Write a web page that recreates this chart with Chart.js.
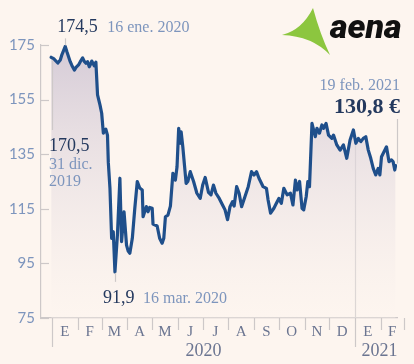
<!DOCTYPE html>
<html><head><meta charset="utf-8">
<script src="https://cdn.jsdelivr.net/npm/chart.js@4"></script>
<style>html,body{margin:0;padding:0;background:#fdf5ef}#wrap{position:relative;width:414px;height:364px}</style>
</head><body><div id="wrap"><canvas id="c" width="414" height="364"></canvas></div>
<script>
// days since 1 Jan 2020 (day 0), closing price in euros
const days = [-1,2,7,10,12,16,18,22,24,27,29,32,34,37,39,41,43,45,47,48,51,53,55,58,60,62,65,67,68,70,72,74,76,79,82,84,87,90,92,94,97,100,103,106,109,110,114,116,118,121,122,127,130,133,135,137,140,143,146,149,151,153,155,156,158,160,162,164,167,171,175,179,182,185,189,192,195,198,202,206,209,212,215,218,220,223,226,229,233,237,241,244,247,250,255,259,261,264,268,271,274,277,280,284,288,291,294,296,299,302,304,307,309,311,314,318,320,323,326,328,331,334,338,340,344,348,352,356,360,364,367,370,373,376,379,382,385,388,391,394,396,398,401,404,407,410,412,414,415];
const prices = [170.5,170.0,168.4,169.5,171.5,174.5,172.5,168.9,167.5,165.8,166.8,167.7,168.8,170.3,169.0,168.3,168.9,167.0,168.2,169.1,167.4,168.7,156.7,153.0,150.0,142.7,144.2,142.0,132.0,122.5,104.2,106.6,91.9,105.4,126.2,103.0,113.9,101.7,99.5,98.7,104.2,115.2,125.0,122.6,121.9,112.1,115.8,113.9,115.5,115.2,109.4,108.7,104.2,102.4,104.2,112.1,112.7,116.0,128.0,125.5,130.4,144.5,139.0,143.2,137.7,131.0,124.3,125.0,128.6,125.0,120.7,118.8,123.7,126.5,121.0,120.1,123.7,120.7,118.8,116.4,114.6,111.0,115.8,117.6,116.0,123.1,120.7,115.8,119.4,123.1,128.6,127.4,128.6,126.2,123.1,122.5,118.2,113.4,115.2,117.0,118.8,117.0,122.5,120.1,120.7,116.4,125.5,121.9,125.0,115.2,114.6,119.4,125.0,123.1,146.3,141.4,144.5,142.7,145.7,144.5,146.3,142.0,140.8,142.0,138.4,136.5,138.4,133.5,140.2,143.9,139.0,140.8,139.6,140.8,141.4,136.5,133.5,129.8,127.4,129.8,127.4,134.1,135.9,137.7,132.3,132.9,132.3,129.2,130.8];
// month boundaries (days since 1 Jan 2020) and labels
const monthStarts = [0,31,60,91,121,152,182,213,244,274,305,335,366,397,425];
const monthLabels = ['E','F','M','A','M','J','J','A','S','O','N','D','E','F'];
const yearLabels = [{label:'2020', from:0, to:366},{label:'2021', from:366, to:425}];
const yTicks = [75,95,115,135,155,175];
const notes = {
  max:{day:16, value:174.5, text:'174,5', date:'16 ene. 2020'},
  min:{day:76, value:91.9, text:'91,9', date:'16 mar. 2020'},
  first:{day:-1, value:170.5, text:'170,5', date:['31 dic.','2019']},
  last:{day:415, value:130.8, text:'130,8 €', date:'19 feb. 2021'}
};

const SERIF = '"Liberation Serif", serif';
const GRAY = '#cdc8c8';
const NAVY = '#24395e';
const LBLUE = '#7d95bd';

function priceAt(d){
  for(let i=1;i<days.length;i++){
    if(days[i]>=d){const t=(d-days[i-1])/(days[i]-days[i-1]);return prices[i-1]+t*(prices[i]-prices[i-1]);}
  }
  return prices[prices.length-1];
}

const deco = {
  id:'deco',
  beforeDraw(chart){
    const {ctx} = chart; ctx.save(); ctx.fillStyle='#fdf5ef'; ctx.fillRect(0,0,chart.width,chart.height); ctx.restore();
  },
  beforeDatasetsDraw(chart){
    const {ctx, scales:{x,y}} = chart;
    ctx.save();
    ctx.strokeStyle = GRAY; ctx.lineWidth = 1.2;
    const xj = Math.round(x.getPixelForValue(366))+0.5;
    ctx.beginPath(); ctx.moveTo(xj, y.getPixelForValue(priceAt(366))); ctx.lineTo(xj, 347); ctx.stroke();
    ctx.restore();
  },
  afterDatasetsDraw(chart){
    const {ctx, scales:{x,y}, chartArea:ca} = chart;
    ctx.save();
    ctx.strokeStyle = GRAY; ctx.lineWidth = 1.2;
    // y tick marks
    yTicks.forEach(v=>{const py=Math.round(y.getPixelForValue(v))+0.5; ctx.beginPath(); ctx.moveTo(ca.left-1,py); ctx.lineTo(ca.left+8,py); ctx.stroke();});
    // month separators
    monthStarts.forEach((d)=>{
      if(d===366) return;
      const px=Math.round(x.getPixelForValue(d))+0.5;
      const long = (d===0);
      ctx.beginPath(); ctx.moveTo(px, ca.bottom); ctx.lineTo(px, long?347:330); ctx.stroke();
    });
    // year labels
    ctx.fillStyle = '#6b7591'; ctx.font = '18px '+SERIF; ctx.textAlign='center'; ctx.textBaseline='alphabetic';
    yearLabels.forEach(yl=>{
      const cx = (x.getPixelForValue(yl.from)+x.getPixelForValue(yl.to))/2;
      ctx.fillText(yl.label, cx, 356);
    });
    // max annotation
    let m = notes.max, px = x.getPixelForValue(m.day), py = y.getPixelForValue(m.value);
    ctx.beginPath(); ctx.moveTo(Math.round(px)+0.5, py-1); ctx.lineTo(Math.round(px)+0.5, py-8); ctx.stroke();
    ctx.textAlign='left';
    ctx.fillStyle = NAVY; ctx.font = '18px '+SERIF; ctx.fillText(m.text, px-8, 32);
    ctx.fillStyle = LBLUE; ctx.font = '16px '+SERIF; ctx.fillText(m.date, px+42, 32);
    // first annotation
    m = notes.first; px = x.getPixelForValue(0); py = y.getPixelForValue(m.value);
    ctx.beginPath(); ctx.moveTo(Math.round(px)+0.5, py+3); ctx.lineTo(Math.round(px)+0.5, 130); ctx.stroke();
    ctx.fillStyle = NAVY; ctx.font = '18px '+SERIF; ctx.fillText(m.text, 49, 151);
    ctx.fillStyle = LBLUE; ctx.font = '16px '+SERIF; ctx.fillText(m.date[0], 49, 169); ctx.fillText(m.date[1], 49, 186);
    // min annotation
    m = notes.min; px = x.getPixelForValue(m.day); py = y.getPixelForValue(m.value);
    ctx.beginPath(); ctx.moveTo(Math.round(px)+0.5, py+1); ctx.lineTo(Math.round(px)+0.5, py+10); ctx.stroke();
    ctx.fillStyle = NAVY; ctx.font = '18px '+SERIF; ctx.fillText(m.text, px-12, 303);
    ctx.fillStyle = LBLUE; ctx.font = '16px '+SERIF; ctx.fillText(m.date, px+28, 303);
    // last annotation
    m = notes.last; px = x.getPixelForValue(m.day); py = y.getPixelForValue(m.value);
    ctx.beginPath(); ctx.moveTo(Math.round(px)+1.5, py-2); ctx.lineTo(Math.round(px)+1.5, 119); ctx.stroke();
    ctx.textAlign='right';
    ctx.fillStyle = LBLUE; ctx.font = '16px '+SERIF; ctx.fillText(m.date, 400, 90);
    ctx.fillStyle = NAVY; ctx.font = 'bold 22px '+SERIF; ctx.fillText(m.text, 400, 113);
    // logo
    ctx.fillStyle = '#8cc63f';
    ctx.beginPath();
    ctx.moveTo(313,8);
    ctx.quadraticCurveTo(302,30,282,35);
    ctx.quadraticCurveTo(312,36,330,55);
    ctx.quadraticCurveTo(320,34,313,8);
    ctx.closePath(); ctx.fill();
    ctx.fillStyle = '#111';
    ctx.font = 'italic 900 34px Roboto, "Liberation Sans", Arial, sans-serif'; ctx.textAlign='left';
    ctx.fillText('aena', 330, 38);
    ctx.restore();
  }
};

const ctx = document.getElementById('c').getContext('2d');
new Chart(ctx, {
  type:'line',
  data:{datasets:[{
    data: days.map((d,i)=>({x:d, y:prices[i]})),
    borderColor:'#1f4f8b', borderWidth:3.2, pointRadius:0, tension:0,
    borderJoinStyle:'round', borderCapStyle:'round',
    fill:'start',
    backgroundColor:(c)=>{
      const ca=c.chart.chartArea; if(!ca) return 'rgba(210,200,210,0.5)';
      const g=c.chart.ctx.createLinearGradient(0,ca.top,0,ca.bottom);
      g.addColorStop(0,'rgba(208,198,212,0.9)');
      g.addColorStop(1,'rgba(253,245,239,0.3)');
      return g;
    }
  }]},
  options:{
    responsive:false, animation:false, devicePixelRatio:1,
    layout:{padding:{top:45,right:17,left:0,bottom:0}},
    plugins:{legend:{display:false}, tooltip:{enabled:false}},
    scales:{
      x:{type:'linear', min:-13.3, max:416.7,
        afterBuildTicks:(s)=>{s.ticks = monthLabels.map((l,i)=>({value:(monthStarts[i]+monthStarts[i+1])/2}));},
        afterFit:(s)=>{s.height=46;},
        grid:{display:false, drawTicks:false}, border:{display:true,color:GRAY,width:1.2},
        ticks:{autoSkip:false, maxRotation:0, padding:5, color:'#6b7591', font:{family:SERIF,size:15},
          callback:(v,i)=>monthLabels[i]}
      },
      y:{min:75, max:175,
        afterBuildTicks:(s)=>{s.ticks = yTicks.map(v=>({value:v}));},
        afterFit:(s)=>{s.width=41;},
        grid:{display:false, drawTicks:false}, border:{display:true,color:GRAY,width:1.2},
        ticks:{padding:6, color:'#7d95bd', font:{family:'Lato, sans-serif',size:15}}
      }
    }
  },
  plugins:[deco]
});
</script>
</body></html>
